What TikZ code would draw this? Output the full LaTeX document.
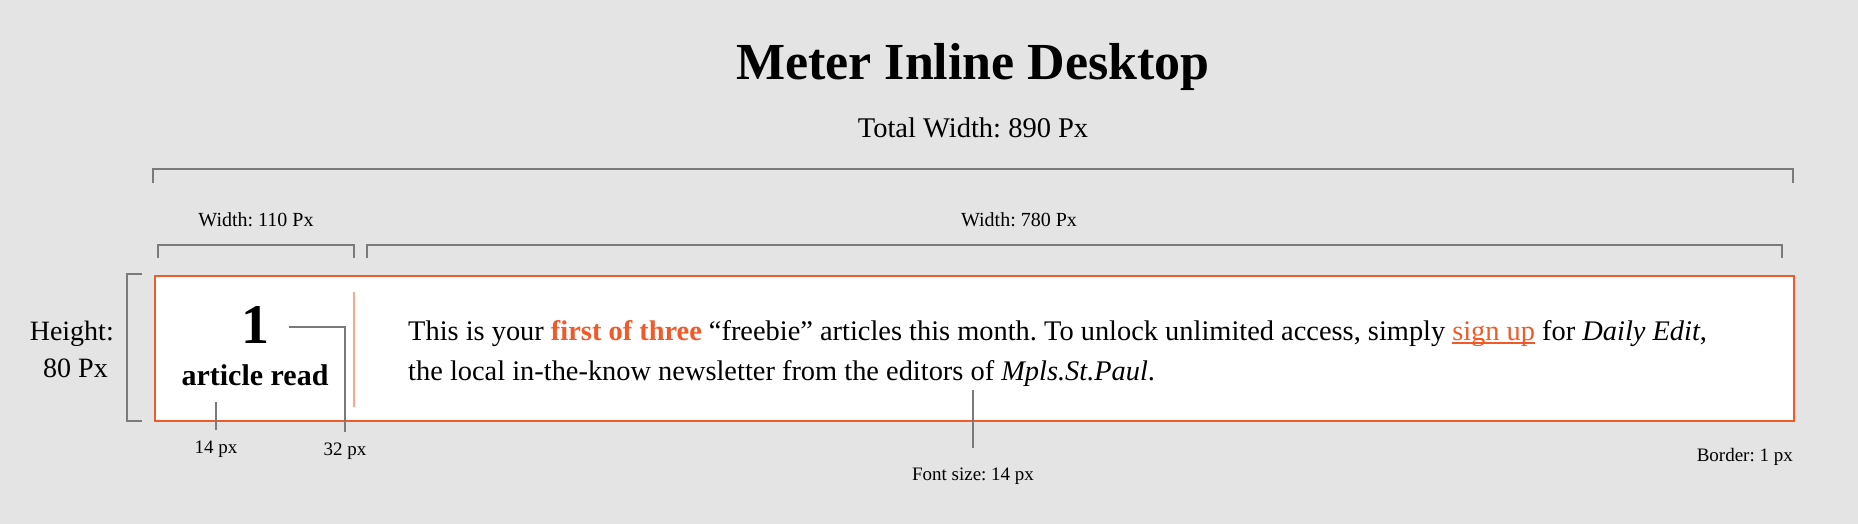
\documentclass[tikz,border=0pt]{standalone}
\usepackage{fontspec}
\setmainfont{Liberation Serif}
\frenchspacing
\definecolor{bg}{HTML}{E4E4E4}
\definecolor{accent}{HTML}{F05A28}
\definecolor{divider}{HTML}{F7A78C}
\definecolor{dim}{HTML}{7A7A7A}
\newcommand\fs[1]{\fontsize{#1}{#1}\selectfont}
\newcommand\myul[1]{\leavevmode\setbox0\hbox{#1}\rlap{\color{accent}\rule[-3.5pt]{\wd0}{1.3pt}}\box0\relax}
\begin{document}
\begin{tikzpicture}[x=1pt,y=-1pt,
  lbl/.style={inner sep=0pt, anchor=base, text=black},
  dimline/.style={draw=dim, line width=1.6pt},
  conn/.style={draw=dim, line width=1.5pt},
]
\fill[bg] (0,0) rectangle (1858,524);
\useasboundingbox (0,0) rectangle (1858,524);

\node[lbl, font=\fs{52}\bfseries] (title) at (973,80) {Meter Inline Desktop};
\node[lbl, font=\fs{28.5}] (total) at (973,138) {Total Width: 890 Px};
\draw[dimline] (153,183) -- (153,169) -- (1793,169) -- (1793,183);

\node[lbl, font=\fs{20}] (w110) at (256,226) {Width: 110 Px};
\node[lbl, font=\fs{20}] (w780) at (1019,226) {Width: 780 Px};
\draw[dimline] (158,258) -- (158,245) -- (354,245) -- (354,258);
\draw[dimline] (367,258) -- (367,245) -- (1782,245) -- (1782,258);

\draw[dimline] (142,274) -- (127,274) -- (127,421) -- (142,421);
\node[lbl, font=\fs{28}, anchor=base east] (hgt) at (114,340) {Height:};
\node[lbl, font=\fs{28}, anchor=base east] (hpx) at (108,377) {80 Px};

\node[draw=accent, line width=2pt, fill=white, minimum width=1639pt, minimum height=145pt, inner sep=0pt, anchor=north west] (meter) at (154,275) {};
\draw[divider, line width=1.2pt] (354,292) -- (354,407);

\node[lbl, font=\fs{56}\bfseries] (count) at (255,343) {1};
\node[lbl, font=\fs{30}\bfseries] (read) at (255,385) {article read};

\node[lbl, anchor=base west, font=\fs{28.4}] (line1) at (408,340) {This is your \textcolor{accent}{\bfseries first of three} “freebie” articles this month. To unlock unlimited access, simply \myul{\textcolor{accent}{sign up}} for \textit{Daily Edit},};
\node[lbl, anchor=base west, font=\fs{28.4}] (line2) at (408,380) {the local in-the-know newsletter from the editors of \textit{Mpls.St.Paul}.};

\coordinate (c1) at (289,327);
\coordinate (c32) at (345,432);
\node[lbl, font=\fs{19}] (l32) at (345,455) {32 px};
\draw[conn] (c1) -| (c32);

\coordinate (a14) at (216,402);
\coordinate (b14) at (216,430);
\node[lbl, font=\fs{19}] (l14) at (216,453) {14 px};
\draw[conn] (a14) -- (b14);

\coordinate (afs) at (973,390);
\coordinate (bfs) at (973,448);
\node[lbl, font=\fs{19}] (lfs) at (973,480) {Font size: 14 px};
\draw[conn] (afs) -- (bfs);

\node[lbl, font=\fs{19}, anchor=base east] (lbd) at (1793,461) {Border: 1 px};
\end{tikzpicture}
\end{document}
